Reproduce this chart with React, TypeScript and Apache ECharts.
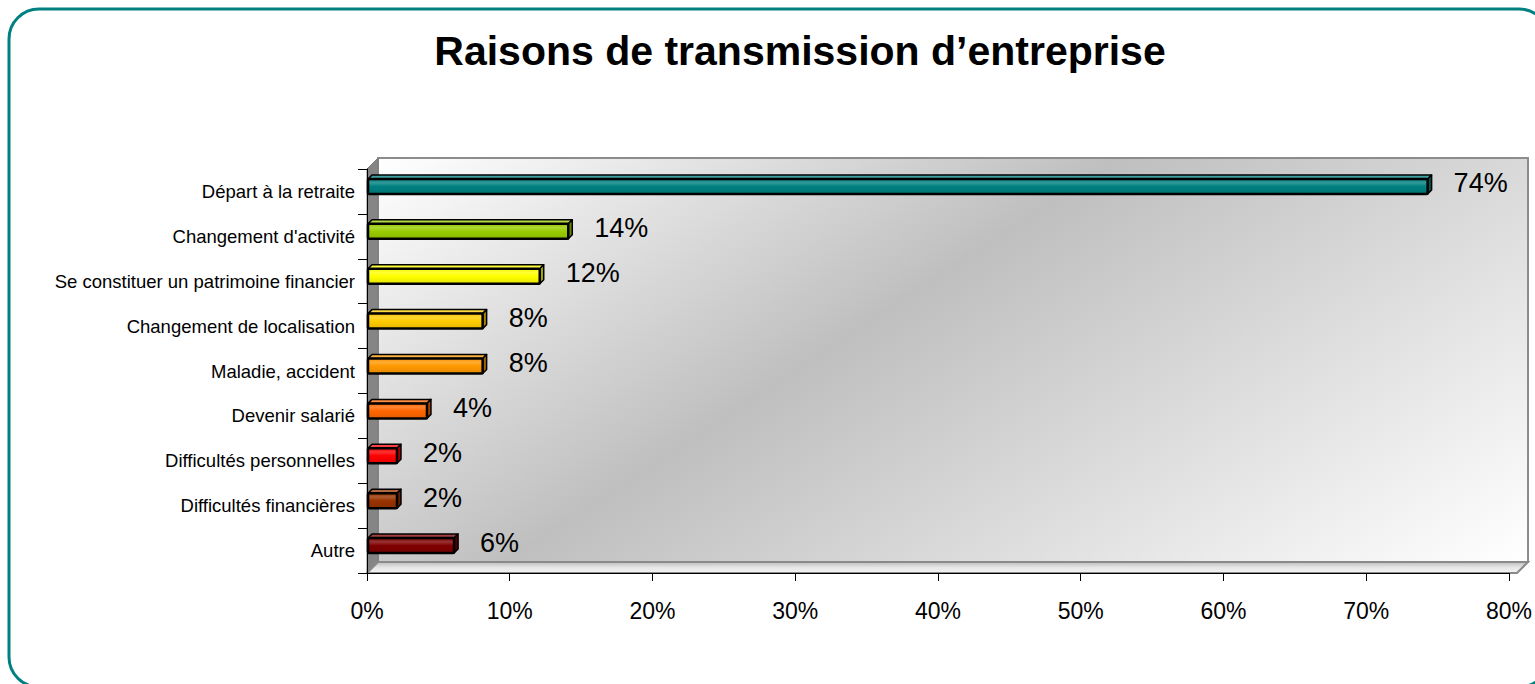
import React, { useEffect, useRef } from "react";
import * as echarts from "echarts";

const categories = [
  "Départ à la retraite",
  "Changement d'activité",
  "Se constituer un patrimoine financier",
  "Changement de localisation",
  "Maladie, accident",
  "Devenir salarié",
  "Difficultés personnelles",
  "Difficultés financières",
  "Autre",
];
const values = [74.3, 14.1, 12.1, 8.1, 8.1, 4.2, 2.1, 2.1, 6.1];
const barColors = [
  "#008080",
  "#99CC00",
  "#FFFF00",
  "#FFCC00",
  "#FF9900",
  "#FF6600",
  "#FF0000",
  "#993300",
  "#800000",
];
const titleText = "Raisons de transmission d’entreprise";
const xMin = 0;
const xMax = 80;
const xStep = 10;

const FONT = "'Liberation Sans', Arial, sans-serif";

function shade(hex: string, f: number): string {
  const n = parseInt(hex.slice(1), 16);
  let r = (n >> 16) & 255, g = (n >> 8) & 255, b = n & 255;
  if (f < 0) {
    r = Math.round(r * (1 + f)); g = Math.round(g * (1 + f)); b = Math.round(b * (1 + f));
  } else {
    r = Math.round(r + (255 - r) * f); g = Math.round(g + (255 - g) * f); b = Math.round(b + (255 - b) * f);
  }
  return `rgb(${r},${g},${b})`;
}

// plot geometry
const GL = 367, GT = 169, GR = 1517, GB = 573, D = 11;

export default function App() {
  const ref = useRef<HTMLDivElement>(null);
  useEffect(() => {
    if (!ref.current) return;
    const chart = echarts.init(ref.current, null, { renderer: "svg" });
    const data = values.map((v, i) => [v, categories[i]]);
    chart.setOption({
      animation: false,
      backgroundColor: "#ffffff",
      grid: { left: GL, top: GT, right: 1535 - GR, bottom: 684 - GB, containLabel: false },
      xAxis: {
        type: "value",
        min: xMin,
        max: xMax,
        interval: xStep,
        axisLine: { show: true, lineStyle: { color: "#000", width: 1 } },
        axisTick: { show: true, length: 8, lineStyle: { color: "#000" } },
        splitLine: { show: false },
        axisLabel: {
          formatter: "{value}%",
          color: "#000",
          fontSize: 23,
          fontFamily: FONT,
          margin: 26,
        },
      },
      yAxis: {
        type: "category",
        data: categories,
        inverse: true,
        axisLine: { show: true, lineStyle: { color: "#000", width: 1 } },
        axisTick: { show: true, length: 9, lineStyle: { color: "#000" } },
        axisLabel: {
          color: "#000",
          fontSize: 18.5,
          fontFamily: FONT,
          margin: 12,
          padding: [0, 0, 8, 0],
        },
        splitLine: { show: false },
      },
      graphic: [
        {
          type: "rect",
          z: -10,
          silent: true,
          shape: { x: 9, y: 9, width: 1540, height: 678, r: 30 },
          style: { fill: "none", stroke: "#008080", lineWidth: 3 },
        },
        {
          type: "text",
          x: 800,
          y: 51,
          style: {
            text: titleText,
            font: `bold 41px ${FONT}`,
            fill: "#000",
            align: "center",
            verticalAlign: "middle",
          },
        },
        {
          type: "rect",
          z: -5,
          silent: true,
          shape: { x: GL + D, y: GT - D, width: GR - GL, height: GB - GT },
          style: {
            fill: new echarts.graphic.LinearGradient(GL + D, GT - D, 911, 968, [
              { offset: 0, color: "#ffffff" },
              { offset: 0.42, color: "#bfbfbf" },
              { offset: 1, color: "#ffffff" },
            ], true),
            stroke: "#8c8c8c",
            lineWidth: 2,
          },
        },
        {
          type: "polygon",
          z: -4,
          silent: true,
          shape: { points: [[GL, GT], [GL + D, GT - D], [GL + D, GB - D], [GL, GB]] },
          style: { fill: "#858585", stroke: "#7a7a7a", lineWidth: 1 },
        },
        {
          type: "polygon",
          z: -4,
          silent: true,
          shape: { points: [[GL, GB], [GL + D, GB - D], [GR + D, GB - D], [GR, GB]] },
          style: {
            fill: new echarts.graphic.LinearGradient(0, 0, 0, 1, [
              { offset: 0, color: "#bdbdbd" },
              { offset: 0.5, color: "#e6e6e6" },
              { offset: 1, color: "#f4f4f4" },
            ]),
            stroke: "#8a8a8a",
            lineWidth: 2,
          },
        },
      ],
      series: [
        {
          type: "custom",
          clip: false,
          encode: { x: 0, y: 1 },
          data,
          renderItem: (params: any, api: any) => {
            const idx = params.dataIndex;
            const v = api.value(0);
            const cat = api.value(1);
            const pEnd = api.coord([v, cat]);
            const p0 = api.coord([0, cat]);
            const h = 15;
            const d = 4;
            const cy = p0[1] - 5;
            const x0 = p0[0] + 1;
            const x1 = pEnd[0];
            const top = cy - h / 2;
            const bot = cy + h / 2;
            const c = barColors[idx];
            return {
              type: "group",
              children: [
                {
                  type: "polygon",
                  shape: { points: [[x0, top], [x0 + d, top - d], [x1 + d, top - d], [x1, top]] },
                  style: { fill: shade(c, 0.25), stroke: "#000", lineWidth: 1.5, lineJoin: "round" },
                },
                {
                  type: "polygon",
                  shape: { points: [[x1, top], [x1 + d, top - d], [x1 + d, bot - d], [x1, bot]] },
                  style: { fill: shade(c, -0.35), stroke: "#000", lineWidth: 1.5, lineJoin: "round" },
                },
                {
                  type: "rect",
                  shape: { x: x0, y: top, width: x1 - x0, height: h, r: 1 },
                  style: {
                    fill: new echarts.graphic.LinearGradient(0, 0, 0, 1, [
                      { offset: 0, color: shade(c, -0.05) },
                      { offset: 0.25, color: shade(c, 0.2) },
                      { offset: 0.5, color: c },
                      { offset: 1, color: shade(c, -0.1) },
                    ]),
                    stroke: "#000",
                    lineWidth: 2.5,
                  },
                },
                {
                  type: "text",
                  x: x1 + d + 22,
                  y: cy - 3,
                  style: {
                    text: Math.round(v) + "%",
                    font: `27px ${FONT}`,
                    fill: "#000",
                    align: "left",
                    verticalAlign: "middle",
                  },
                },
              ],
            };
          },
        },
      ],
    });
    return () => chart.dispose();
  }, []);
  return (
    <div
      ref={ref}
      style={{ position: "fixed", left: 0, top: 0, width: 1535, height: 684 }}
    />
  );
}
